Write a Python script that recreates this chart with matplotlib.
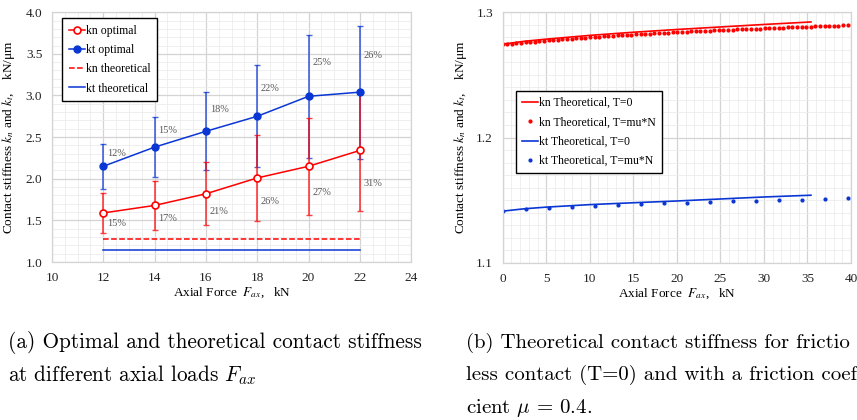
import matplotlib
matplotlib.use('Agg')
import matplotlib.pyplot as plt
from matplotlib.ticker import MultipleLocator

plt.rcParams['font.family'] = ['Liberation Serif', 'DejaVu Serif']

# ---- (a) optimal vs theoretical, at different axial loads ----
force = [12, 14, 16, 18, 20, 22]
kn_opt = [1.59, 1.68, 1.82, 2.01, 2.15, 2.34]
kt_opt = [2.15, 2.38, 2.57, 2.75, 2.99, 3.04]
kn_err = [0.24, 0.29, 0.38, 0.52, 0.58, 0.73]
kt_err = [0.27, 0.36, 0.47, 0.61, 0.74, 0.80]
kn_pct = ['15%', '17%', '21%', '26%', '27%', '31%']
kt_pct = ['12%', '15%', '18%', '22%', '25%', '26%']
kn_theo = [1.28, 1.28, 1.28, 1.28, 1.28, 1.28]
kt_theo = [1.15, 1.15, 1.15, 1.15, 1.15, 1.15]

# ---- (b) theoretical, T=0 and T=mu*N ----
line_force = [0, 2.5, 5, 10, 15, 20, 25, 30, 35.4]
kn_t0 = [1.2745, 1.2768, 1.2785, 1.2815, 1.2840, 1.2862, 1.2882, 1.2902, 1.2922]
kt_t0 = [1.1413, 1.1432, 1.1445, 1.1465, 1.1480, 1.1494, 1.1510, 1.1526, 1.1540]

kn_mu_force = [0.00, 0.53, 1.06, 1.58, 2.11, 2.64, 3.17, 3.70, 4.22, 4.75,
               5.28, 5.81, 6.34, 6.86, 7.39, 7.92, 8.45, 8.98, 9.50, 10.03,
               10.56, 11.09, 11.62, 12.14, 12.67, 13.20, 13.73, 14.26, 14.78, 15.31,
               15.84, 16.37, 16.90, 17.42, 17.95, 18.48, 19.01, 19.54, 20.06, 20.59,
               21.12, 21.65, 22.18, 22.70, 23.23, 23.76, 24.29, 24.82, 25.34, 25.87,
               26.40, 26.93, 27.46, 27.98, 28.51, 29.04, 29.57, 30.10, 30.62, 31.15,
               31.68, 32.21, 32.74, 33.26, 33.79, 34.32, 34.85, 35.38, 35.90, 36.43,
               36.96, 37.49, 38.02, 38.54, 39.07, 39.60]
kn_mu = [1.2743, 1.2746, 1.2750, 1.2753, 1.2756, 1.2759, 1.2763, 1.2766, 1.2769, 1.2772,
         1.2775, 1.2778, 1.2780, 1.2783, 1.2786, 1.2789, 1.2791, 1.2794, 1.2797, 1.2800,
         1.2802, 1.2804, 1.2807, 1.2809, 1.2811, 1.2814, 1.2816, 1.2818, 1.2821, 1.2823,
         1.2825, 1.2827, 1.2829, 1.2831, 1.2833, 1.2835, 1.2837, 1.2839, 1.2841, 1.2843,
         1.2844, 1.2846, 1.2848, 1.2850, 1.2851, 1.2853, 1.2855, 1.2856, 1.2858, 1.2859,
         1.2861, 1.2862, 1.2864, 1.2865, 1.2866, 1.2868, 1.2869, 1.2871, 1.2872, 1.2874,
         1.2875, 1.2876, 1.2878, 1.2879, 1.2880, 1.2882, 1.2883, 1.2885, 1.2886, 1.2887,
         1.2889, 1.2890, 1.2891, 1.2893, 1.2894, 1.2896]
kt_mu_force = [0.00, 2.64, 5.28, 7.92, 10.56, 13.20, 15.84, 18.48, 21.12, 23.76,
               26.40, 29.04, 31.68, 34.32, 36.96, 39.60]
kt_mu = [1.1413, 1.1427, 1.1439, 1.1447, 1.1455, 1.1461, 1.1468, 1.1474, 1.1480, 1.1485,
         1.1490, 1.1495, 1.1500, 1.1505, 1.1510, 1.1515]

RED = '#ff0000'
BLUE = '#0a36d4'
ylab = 'Contact stiffness $k_n$ and $k_t$,    kN/\u03bcm'
xlab = 'Axial Force  $F_{ax}$,   kN'


def style_axes(ax, xmaj, xmin, ymaj, ymin):
    ax.xaxis.set_major_locator(MultipleLocator(xmaj))
    ax.xaxis.set_minor_locator(MultipleLocator(xmin))
    ax.yaxis.set_major_locator(MultipleLocator(ymaj))
    ax.yaxis.set_minor_locator(MultipleLocator(ymin))
    ax.grid(which='major', color='#d4d4d4', lw=0.9)
    ax.grid(which='minor', color='#ececec', lw=0.6)
    ax.set_axisbelow(True)
    for s in ax.spines.values():
        s.set_color('#d4d4d4')
        s.set_linewidth(0.9)
    ax.tick_params(which='both', length=0, labelsize=9.5, pad=7, colors='#222222')
    ax.set_ylabel(ylab, fontsize=9.5, math_fontfamily='stix')
    ax.set_xlabel(xlab, fontsize=9.5, math_fontfamily='stix')


fig = plt.figure(figsize=(8.57, 4.2), dpi=100)

# ---------- left panel ----------
ax1 = fig.add_axes([0.0607, 0.376, 0.419, 0.595])
ax1.errorbar(force, kt_opt, yerr=kt_err, fmt='none', ecolor=BLUE, elinewidth=1.2,
             capsize=2, capthick=1.0, alpha=0.75)
ax1.errorbar(force, kn_opt, yerr=kn_err, fmt='none', ecolor=RED, elinewidth=1.2,
             capsize=2, capthick=1.0, alpha=0.75)
ax1.plot(force, kn_opt, '-o', color=RED, lw=1.1, ms=5, mfc='white', mec=RED, mew=1.2,
         label='kn optimal')
ax1.plot(force, kt_opt, '-o', color=BLUE, lw=1.1, ms=5, label='kt optimal')
ax1.plot(force, kn_theo, '--', color=RED, lw=1.1, label='kn theoretical')
ax1.plot(force, kt_theo, '-', color=BLUE, lw=1.1, label='kt theoretical')

for x, v, e, t in zip(force, kt_opt, kt_err, kt_pct):
    ax1.text(x + 0.15, v + 0.55 * e, t, fontsize=7.5, color='#595959', va='center')
for x, v, e, t in zip(force, kn_opt, kn_err, kn_pct):
    ax1.text(x + 0.15, v - 0.55 * e, t, fontsize=7.5, color='#595959', va='center')

ax1.set_xlim(10, 24)
ax1.set_ylim(1.0, 4.0)
style_axes(ax1, 2, 0.5, 0.5, 0.1)
ax1.yaxis.set_major_formatter(plt.FormatStrFormatter('%.1f'))
ax1.yaxis.set_label_coords(-0.098, 0.5)
ax1.xaxis.set_label_coords(0.5, -0.095)
leg = ax1.legend(loc='upper left', bbox_to_anchor=(0.028, 0.976), fontsize=8.5,
                 fancybox=False, framealpha=1, edgecolor='black', handlelength=1.4,
                 handletextpad=0.1, labelspacing=0.62, borderpad=0.55, borderaxespad=0)
leg.get_frame().set_linewidth(1.0)

# ---------- right panel ----------
ax2 = fig.add_axes([0.5866, 0.374, 0.4064, 0.597])
ax2.plot(line_force, kn_t0, '-', color=RED, lw=1.2, label='kn Theoretical, T=0')
ax2.plot(kn_mu_force, kn_mu, 'o', color=RED, ms=2.0, label='kn Theoretical, T=mu*N')
ax2.plot(line_force, kt_t0, '-', color=BLUE, lw=1.2, label='kt Theoretical, T=0')
ax2.plot(kt_mu_force, kt_mu, 'o', color=BLUE, ms=2.0, label='kt Theoretical, T=mu*N')
ax2.set_xlim(0, 40)
ax2.set_ylim(1.1, 1.3)
style_axes(ax2, 5, 1, 0.1, 0.01)
ax2.yaxis.set_major_formatter(plt.FormatStrFormatter('%.1f'))
ax2.yaxis.set_label_coords(-0.097, 0.5)
ax2.xaxis.set_label_coords(0.5, -0.095)
leg2 = ax2.legend(loc='upper left', bbox_to_anchor=(0.037, 0.685), fontsize=8.5,
                  fancybox=False, framealpha=1, edgecolor='black', handlelength=1.4,
                  handletextpad=0.1, labelspacing=0.62, borderpad=0.5, numpoints=1,
                  borderaxespad=0)
leg2.get_frame().set_linewidth(1.0)

# ---------- captions (the (b) caption is cut at the right edge in the source) ----------
cap = dict(fontsize=15.3, family='cmr10', math_fontfamily='cm', va='center')
fig.text(8 / 857, 1 - 343 / 420, '(a) Optimal and theoretical contact stiffness', **cap)
fig.text(8 / 857, 1 - 375 / 420, 'at different axial loads $F_{ax}$', **cap)
cap['fontsize'] = 15.0
fig.text(466 / 857, 1 - 343 / 420, '(b) Theoretical contact stiffness for frictio', **cap)
fig.text(466 / 857, 1 - 375 / 420, 'less contact (T=0) and with a friction coef', **cap)
fig.text(466 / 857, 1 - 408 / 420, 'cient $\\mu$ = 0.4.', **cap)

fig.savefig('out.png', dpi=100)
